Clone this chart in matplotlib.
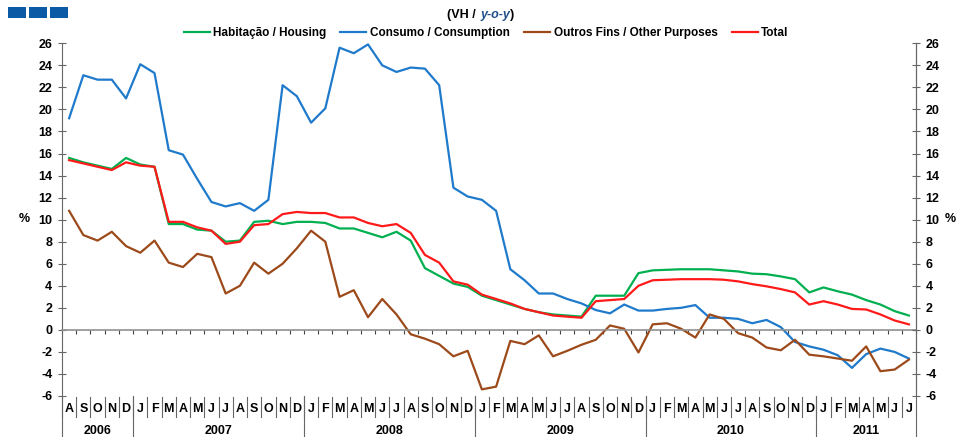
import numpy as np
import matplotlib
matplotlib.use("Agg")
import matplotlib.pyplot as plt
from matplotlib.patches import Rectangle
import matplotlib.transforms as mtransforms

plt.rcParams['font.family'] = ['Liberation Sans', 'DejaVu Sans']
plt.rcParams['font.weight'] = 'bold'
plt.rcParams['axes.unicode_minus'] = False

# months Aug 2006 .. Jul 2011
months = list("ASOND") + list("JFMAMJJASOND") * 4 + list("JFMAMJJ")
years = ['2006', '2007', '2008', '2009', '2010', '2011']
months_per_year = [5, 12, 12, 12, 12, 7]

habitacao = [15.6, 15.2, 14.9, 14.6, 15.6,
             15.0, 14.8, 9.6, 9.6, 9.1, 9.0, 8.0, 8.1, 9.8, 9.9, 9.6, 9.8,
             9.8, 9.7, 9.2, 9.2, 8.8, 8.4, 8.9, 8.1, 5.6, 4.9, 4.2, 3.9,
             3.1, 2.7, 2.3, 1.9, 1.6, 1.4, 1.3, 1.2, 3.1, 3.1, 3.1, 5.15,
             5.4, 5.45, 5.5, 5.5, 5.5, 5.4, 5.3, 5.1, 5.05, 4.85, 4.6, 3.4,
             3.85, 3.5, 3.2, 2.7, 2.3, 1.7, 1.3]

consumo = [19.2, 23.1, 22.7, 22.7, 21.0,
           24.1, 23.3, 16.3, 15.9, 13.7, 11.6, 11.2, 11.5, 10.8, 11.8, 22.2, 21.2,
           18.8, 20.1, 25.6, 25.1, 25.9, 24.0, 23.4, 23.8, 23.7, 22.2, 12.9, 12.1,
           11.8, 10.8, 5.5, 4.5, 3.3, 3.3, 2.8, 2.4, 1.8, 1.5, 2.3, 1.75,
           1.75, 1.9, 2.0, 2.25, 1.1, 1.1, 1.0, 0.6, 0.9, 0.25, -1.1, -1.5,
           -1.8, -2.3, -3.45, -2.2, -1.7, -2.0, -2.6]

outros = [10.8, 8.6, 8.1, 8.9, 7.6,
          7.0, 8.1, 6.1, 5.7, 6.9, 6.6, 3.3, 4.0, 6.1, 5.1, 6.0, 7.4,
          9.0, 8.0, 3.0, 3.6, 1.15, 2.8, 1.4, -0.4, -0.8, -1.3, -2.4, -1.9,
          -5.4, -5.15, -1.0, -1.3, -0.5, -2.4, -1.9, -1.35, -0.9, 0.4, 0.1, -2.05,
          0.5, 0.6, 0.1, -0.7, 1.4, 1.0, -0.3, -0.7, -1.6, -1.85, -0.9, -2.25,
          -2.4, -2.6, -2.8, -1.5, -3.75, -3.6, -2.7]

total = [15.4, 15.1, 14.8, 14.5, 15.2,
         14.9, 14.8, 9.8, 9.8, 9.3, 9.0, 7.8, 8.0, 9.5, 9.6, 10.5, 10.7,
         10.6, 10.6, 10.2, 10.2, 9.7, 9.4, 9.6, 8.8, 6.8, 6.1, 4.4, 4.1,
         3.2, 2.8, 2.4, 1.9, 1.6, 1.3, 1.2, 1.1, 2.6, 2.7, 2.8, 4.0,
         4.5, 4.55, 4.6, 4.6, 4.6, 4.55, 4.4, 4.15, 3.95, 3.7, 3.4, 2.3,
         2.6, 2.3, 1.9, 1.85, 1.4, 0.85, 0.5]

series = [
    (habitacao, 'Habitação / Housing', '#00b050'),
    (consumo, 'Consumo / Consumption', '#1f7acb'),
    (outros, 'Outros Fins / Other Purposes', '#9c4a1a'),
    (total, 'Total', '#ff1a1a'),
]

W, H = 957, 437
fig = plt.figure(figsize=(W / 100, H / 100), dpi=100)
ax = fig.add_axes([62 / W, 1 - 396 / H, (916 - 62) / W, (396 - 43.3) / H])

x = np.arange(len(months))
for vals, name, col in series:
    ax.plot(x, vals, color=col, lw=1.6, label=name)

ax.set_xlim(-0.5, len(months) - 0.5)
ax.set_ylim(-6, 26)
yt = np.arange(-6, 27, 2)

axis_col = '#666666'
for s in ['top', 'right']:
    ax.spines[s].set_visible(False)
ax.spines['bottom'].set_position(('data', 0))
ax.spines['bottom'].set_color('#909090')
ax.spines['bottom'].set_linewidth(1.2)
ax.spines['left'].set_color(axis_col)
ax.set_xticks(np.arange(len(months) + 1) - 0.5)
ax.set_xticklabels([])
ax.tick_params(axis='x', direction='out', length=3, color='#444444')
ax.set_yticks(yt)
ax.tick_params(axis='y', direction='inout', length=6, color=axis_col,
               labelsize=9, pad=4)

ax2 = ax.twinx()
ax2.set_ylim(-6, 26)
ax2.set_yticks(yt)
for s in ['top', 'left', 'bottom']:
    ax2.spines[s].set_visible(False)
ax2.spines['right'].set_color(axis_col)
ax2.tick_params(axis='y', direction='inout', length=6, color=axis_col,
                labelsize=9, pad=4)

for lab in ax.get_yticklabels() + ax2.get_yticklabels():
    lab.set_fontweight('bold')

fig.text(24 / W, 1 - 219 / H, '%', fontsize=9, weight='bold', ha='center', va='center')
fig.text(950 / W, 1 - 219 / H, '%', fontsize=9, weight='bold', ha='center', va='center')

# month / year labels under the plot
tr = mtransforms.blended_transform_factory(ax.transData, ax.transAxes)
for i, m in enumerate(months):
    ax.text(i, -0.037, m, transform=tr, ha='center', va='center',
            fontsize=9, weight='bold')
    ax.plot([i - 0.5, i - 0.5], [-0.003, -0.06], transform=tr,
            color=axis_col, lw=0.8, clip_on=False)

start = -0.5
for yr, n in zip(years, months_per_year):
    ax.plot([start, start], [0, -0.118], transform=tr, color=axis_col,
            lw=0.8, clip_on=False)
    ax.text(start + n / 2, -0.099, yr, transform=tr, ha='center',
            va='center', fontsize=9, weight='bold')
    start += n
ax.plot([start, start], [1, -0.118], transform=tr, color=axis_col,
        lw=0.8, clip_on=False)

# title
fig.text(447 / W, 1 - 15 / H, '(VH / ', fontsize=9, weight='bold', va='center')
fig.text(481 / W, 1 - 15 / H, 'y-o-y', fontsize=9, weight='bold',
         style='italic', color='#1f4e8c', va='center')
fig.text(510 / W, 1 - 15 / H, ')', fontsize=9, weight='bold', va='center')

fig.legend(loc='center', bbox_to_anchor=(486 / W, 1 - 33 / H), ncol=4,
           frameon=False, handlelength=2.2, handletextpad=0.3,
           columnspacing=1.2, prop={'weight': 'bold', 'size': 8.5})

# logo blocks in the corner
for x0 in [8, 29, 50]:
    fig.patches.append(Rectangle((x0 / W, 1 - 18.3 / H), 18 / W, 11.6 / H,
                                 transform=fig.transFigure, color='#0a5aa5',
                                 lw=0))

fig.savefig('out.png', dpi=100)
